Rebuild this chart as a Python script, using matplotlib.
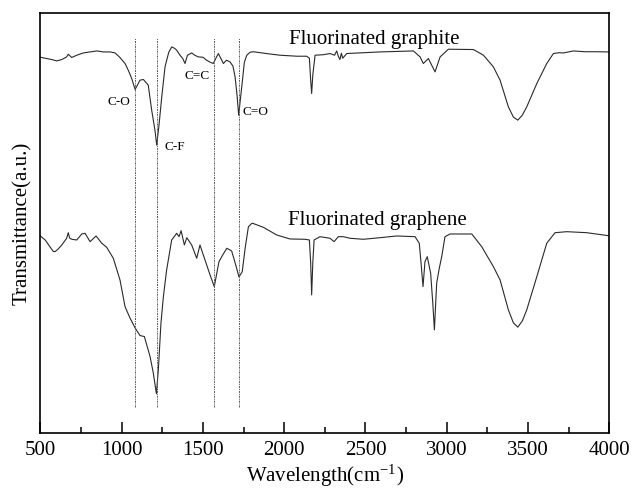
import matplotlib
matplotlib.use("Agg")
import matplotlib.pyplot as plt
from matplotlib.ticker import MultipleLocator

plt.rcParams['font.family'] = ['Liberation Serif', 'DejaVu Serif']
plt.rcParams['mathtext.fontset'] = 'stix'

# FTIR spectra, transmittance in arbitrary units
wn_graphite = [500, 509, 539, 570, 601, 632, 662, 672, 693, 724, 765, 806, 847, 888, 929, 960,
               990, 1021, 1041, 1062, 1083, 1097, 1113, 1134, 1164, 1185, 1205, 1216, 1230, 1247,
               1267, 1290, 1308, 1325, 1339, 1359, 1375, 1390, 1405, 1431, 1450, 1472, 1500, 1523,
               1545, 1564, 1580, 1595, 1610, 1626, 1645, 1667, 1685, 1698, 1710, 1720, 1730, 1739,
               1755, 1770, 1790, 1810, 1900, 1974, 2080, 2138, 2155, 2163, 2169, 2176, 2190, 2240,
               2282, 2310, 2323, 2333, 2343, 2352, 2360, 2385, 2590, 2795, 2836, 2856, 2887, 2928,
               2959, 3010, 3164, 3226, 3287, 3328, 3379, 3410, 3437, 3465, 3492, 3554, 3615, 3656,
               3690, 3718, 3779, 3850, 3920, 3994, 4000]
t_graphite = [376, 375.7, 374.7, 373.7, 372.3, 373.7, 376.3, 379, 375.7, 378, 380.3, 381.3, 382.3,
              381.3, 381.3, 380.3, 375.7, 369.7, 363, 354.7, 343.7, 348, 353, 353.7, 348, 323, 303,
              288, 308, 336.3, 366.3, 381, 386.3, 385, 383, 378, 375, 369.7, 378, 380.3, 378, 376.3,
              376, 373, 371, 369.7, 375, 379.7, 375, 369.7, 373, 371.3, 367, 356.3, 338, 318, 333,
              346.3, 371, 378, 381, 381.5, 379.5, 378, 377, 377, 375, 353, 339.7, 358, 378, 378.5,
              379.7, 378, 382.3, 377, 373.7, 380, 375, 379.7, 381.3, 382.3, 376.3, 369.7, 374.7,
              361.3, 376.3, 384, 383.7, 378, 366.3, 353, 326.3, 316, 313, 318, 326.3, 349.7, 369.7,
              379.7, 380.5, 380.3, 382.3, 381.5, 381.5, 381.3, 381.3]

wn_graphene = [500, 530, 560, 580, 590, 610, 632, 662, 672, 680, 693, 724, 755, 775, 806, 843, 878,
               908, 949, 990, 1021, 1052, 1084, 1113, 1140, 1175, 1195, 1214, 1226, 1242, 1257, 1277,
               1308, 1339, 1353, 1366, 1386, 1401, 1431, 1462, 1482, 1513, 1544, 1570, 1599, 1622,
               1647, 1677, 1702, 1722, 1742, 1760, 1780, 1800, 1806, 1872, 1954, 2036, 2128, 2155,
               2163, 2169, 2176, 2184, 2220, 2282, 2307, 2333, 2364, 2405, 2487, 2590, 2692, 2805,
               2831, 2842, 2854, 2866, 2880, 2901, 2914, 2924, 2938, 2954, 2969, 2989, 3020, 3154,
               3215, 3287, 3328, 3379, 3410, 3437, 3465, 3492, 3554, 3615, 3666, 3738, 3861, 3994,
               4000]
t_graphene = [197, 193, 186, 181.5, 181.3, 184, 188, 194.7, 200.3, 195, 193.7, 193, 199, 199.7,
              191.3, 197, 189.7, 185.7, 174.7, 153, 126.3, 114.7, 104.7, 97.3, 96.3, 76.3, 59.7, 39,
              63, 109.7, 136.3, 163, 193, 199.7, 196.3, 202.3, 188, 195.3, 188, 174.7, 188, 173, 158,
              146.3, 171.3, 178, 184.7, 182, 168, 156, 161.3, 185, 206.3, 209.5, 209.7, 205.7, 198,
              194, 193.7, 193, 170, 138, 170, 193, 196.3, 194.7, 191.3, 196.3, 196.3, 194.7, 193.7,
              195.3, 197, 196.3, 189.7, 169.7, 146.3, 171.3, 176.3, 159.7, 130, 103, 149.7, 164.7,
              176.3, 196.3, 199, 199, 186.3, 166.3, 153, 123, 110, 105.7, 112, 123, 156.3, 189.7,
              200.3, 201.3, 200.3, 197.3, 197.3]

peak_pos = [1085, 1215, 1570, 1720]
peak_names = ['C-O', 'C-F', 'C=C', 'C=O']
peak_label_xy = [(984, 331), (1329, 286), (1467, 357), (1821, 321)]

fig = plt.figure(figsize=(6.33, 4.90), dpi=100)
ax = fig.add_axes([0.0637, 0.1169, 0.8989, 0.856])

ax.plot(wn_graphite, t_graphite, color='#2a2a2a', lw=0.8)
ax.plot(wn_graphene, t_graphene, color='#2a2a2a', lw=0.8)

for p in peak_pos:
    ax.plot([p, p], [26, 395], color='#555555', lw=0.7, ls=(0, (2, 1, 1, 1)))

for name, (x, y) in zip(peak_names, peak_label_xy):
    ax.text(x, y, name, fontsize=9.5, ha='center', va='center')

ax.text(2553, 389, 'Fluorinated graphite', fontsize=15, ha='center', va='baseline')
ax.text(2574, 208, 'Fluorinated graphene', fontsize=15, ha='center', va='baseline')

ax.set_xlim(500, 4000)
ax.set_ylim(0, 420)
ax.xaxis.set_major_locator(MultipleLocator(500))
ax.xaxis.set_minor_locator(MultipleLocator(250))
ax.tick_params(axis='x', which='major', direction='in', length=8, width=1.1, labelsize=15, pad=6)
ax.tick_params(axis='x', which='minor', direction='in', length=4, width=1.1)
ax.set_yticks([])
for s in ax.spines.values():
    s.set_linewidth(1.2)

ax.set_xlabel(r'Wavelength(cm$^{\mathregular{-1}}$)', fontsize=15, labelpad=2)
ax.set_ylabel('Transmittance(a.u.)', fontsize=15, labelpad=6)

fig.savefig('out.png', dpi=100)
